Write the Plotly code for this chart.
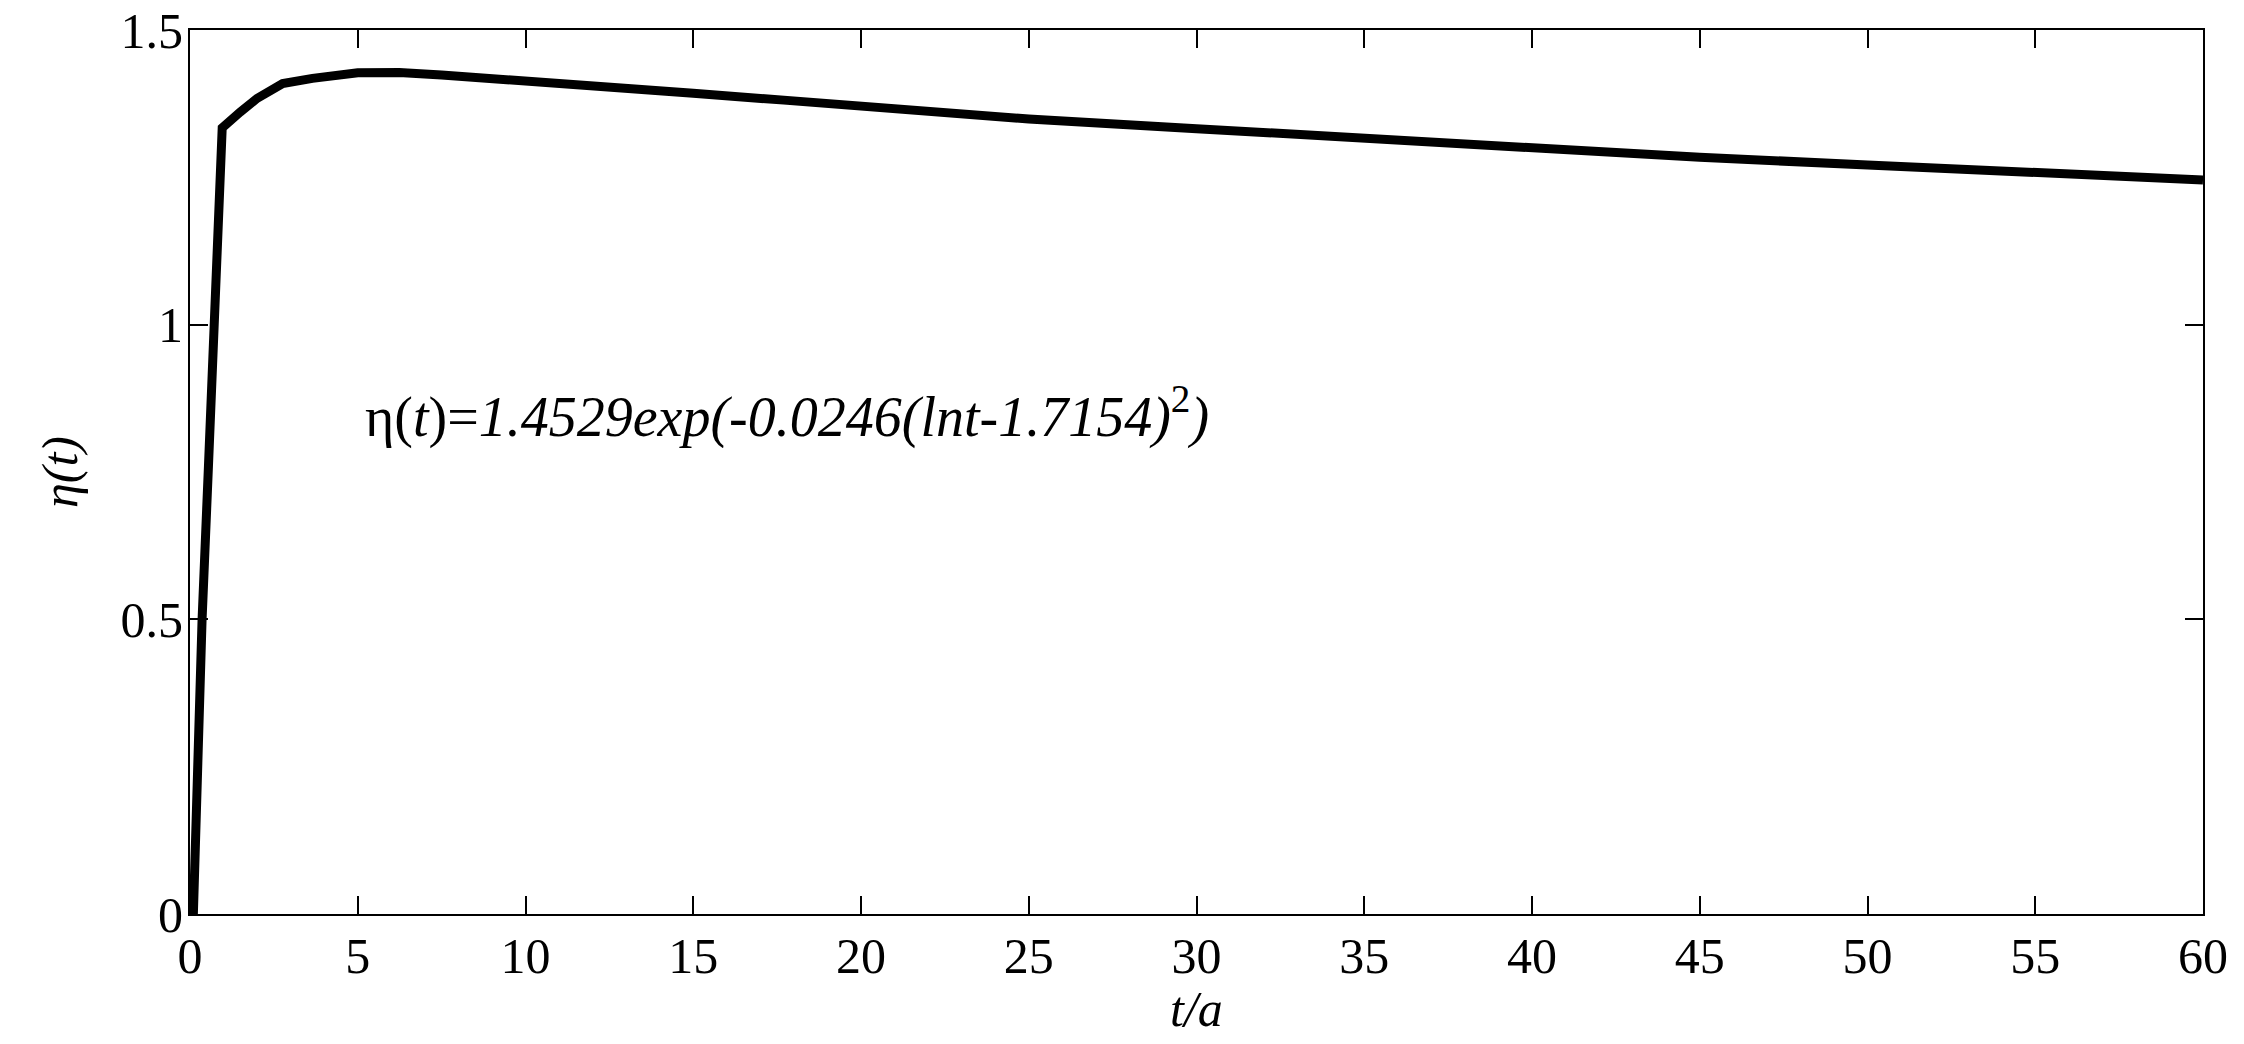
import plotly.graph_objects as go

# Values
t_values = [0.1, 0.23, 0.36, 0.55, 0.73, 0.96, 1.5, 2.0, 2.76, 3.65, 5.0, 6.24, 7.5,
            10.0, 12.6, 15.0, 17.7, 20.0, 25.0, 30.0, 35.0, 40.0, 45.0, 50.0, 55.0, 60.0]
eta_values = [0.0, 0.3, 0.5, 0.76, 1.0, 1.334, 1.361, 1.384, 1.409, 1.418, 1.4275, 1.428, 1.4236,
              1.412, 1.401, 1.3925, 1.381, 1.371, 1.349, 1.3326, 1.3156, 1.301, 1.284, 1.271, 1.258, 1.2455]

x_ticks = [0, 5, 10, 15, 20, 25, 30, 35, 40, 45, 50, 55, 60]
y_ticks = [0, 0.5, 1, 1.5]
y_tick_labels = ["0", "0.5", "1", "1.5"]

x_title = "<i>t/a</i>"
y_title = "<i>η(t)</i>"
formula_text = "η(<i>t</i>)=<i>1.4529exp(-0.0246(lnt-1.7154)</i><sup>2</sup><i>)</i>"
formula_pos = (5.15, 0.85)

FONT = "Liberation Serif, Times New Roman, serif"

fig = go.Figure()
fig.add_trace(go.Scatter(
    x=t_values, y=eta_values, mode="lines",
    line=dict(color="black", width=9),
    showlegend=False,
))

fig.add_annotation(
    x=formula_pos[0], y=formula_pos[1], xref="x", yref="y",
    text=formula_text, showarrow=False, xanchor="left", yanchor="middle",
    font=dict(family=FONT, size=56, color="black"),
)

# x-axis title placed below the tick labels
fig.add_annotation(
    x=0.5, y=-0.107, xref="paper", yref="paper",
    text=x_title, showarrow=False, xanchor="center", yanchor="middle",
    font=dict(family=FONT, size=50, color="black"),
)

axis_common = dict(
    showline=True, linecolor="black", linewidth=2, mirror="ticks",
    ticks="inside", ticklen=18, tickwidth=2, tickcolor="black",
    showgrid=False, zeroline=False, automargin=False,
    ticklabeloverflow="allow",
    tickfont=dict(family=FONT, size=50, color="black"),
)

fig.update_xaxes(range=[0, 60], tickvals=x_ticks, ticklabelstandoff=-3, **axis_common)
fig.update_yaxes(
    range=[0, 1.5], tickvals=y_ticks, ticktext=y_tick_labels, ticklabelstandoff=-5,
    title=dict(text=y_title, font=dict(family=FONT, size=50, color="black"), standoff=27),
    **axis_common,
)

fig.update_layout(
    width=2244, height=1044,
    margin=dict(l=190, r=41, t=30, b=130),
    plot_bgcolor="white", paper_bgcolor="white",
)

fig.write_html(
    "out.html",
    config={"displayModeBar": False},
    post_script="document.body.style.margin='0';document.body.style.overflow='hidden';",
)
